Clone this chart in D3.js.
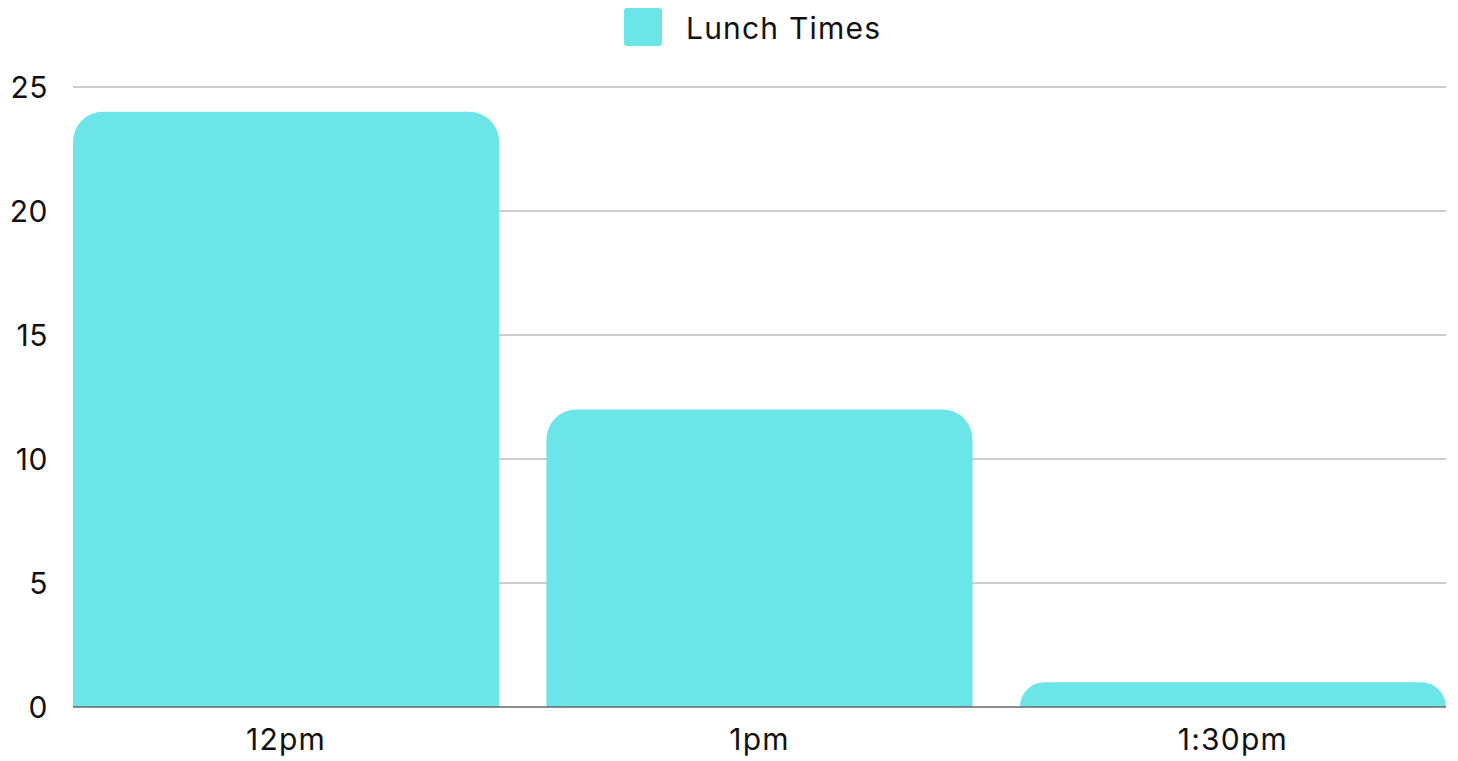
<!DOCTYPE html>
<html><head><meta charset="utf-8">
<script src="https://cdn.jsdelivr.net/npm/d3@7"></script>
<style>body{margin:0;background:#fff;} text{font-family:Inter,"Open Sans",sans-serif;letter-spacing:1.2px;} .yl text{letter-spacing:0.5px;}</style>
</head><body>
<svg id="c" width="1458" height="761"></svg>
<script>
const categories = ["12pm", "1pm", "1:30pm"];
const values = [24, 12, 1];
const yTicks = [0, 5, 10, 15, 20, 25];
const seriesName = "Lunch Times";
const color = "#6ce5e8";

const svg = d3.select("#c");
const m = {left: 73, right: 12, top: 87, bottom: 54};
const W = 1458, H = 761;
const x = d3.scaleBand().domain(categories).range([m.left, W - m.right]).paddingInner(0.1).paddingOuter(0);
const y = d3.scaleLinear().domain([0, 25]).range([H - m.bottom, m.top]);

// gridlines
svg.append("g").selectAll("line").data(yTicks.filter(t => t > 0)).join("line")
  .attr("x1", m.left).attr("x2", W - m.right)
  .attr("y1", d => y(d)).attr("y2", d => y(d))
  .attr("stroke", "#bdbdbd").attr("stroke-width", 1.3);

// y labels
svg.append("g").attr("class", "yl").selectAll("text").data(yTicks).join("text")
  .attr("x", 48).attr("y", d => y(d)).attr("dy", "0.35em")
  .attr("text-anchor", "end").attr("font-size", 30).attr("fill", "#111")
  .text(d => d);

// bars
function barPath(x0, w, yTop, yBot, r) {
  const h = yBot - yTop;
  const rr = Math.min(r, h, w / 2);
  return `M${x0},${yBot}V${yTop + rr}A${rr},${rr} 0 0 1 ${x0 + rr},${yTop}H${x0 + w - rr}A${rr},${rr} 0 0 1 ${x0 + w},${yTop + rr}V${yBot}Z`;
}
svg.append("g").selectAll("path").data(categories.map((c, i) => ({c, v: values[i]}))).join("path")
  .attr("d", d => barPath(x(d.c), x.bandwidth(), y(d.v), y(0), 30))
  .attr("fill", color);

// baseline
svg.append("line").attr("x1", m.left).attr("x2", W - m.right)
  .attr("y1", y(0)).attr("y2", y(0)).attr("stroke", "#666").attr("stroke-width", 1.5);

// x labels
svg.append("g").selectAll("text").data(categories).join("text")
  .attr("x", d => x(d) + x.bandwidth() / 2).attr("y", y(0) + 32).attr("dy", "0.35em")
  .attr("text-anchor", "middle").attr("font-size", 30).attr("fill", "#111")
  .text(d => d);

// legend
const lg = svg.append("g");
lg.append("rect").attr("x", 624).attr("y", 8).attr("width", 38).attr("height", 38).attr("rx", 3).attr("fill", color);
lg.append("text").attr("x", 686).attr("y", 28).attr("dy", "0.35em").attr("font-size", 30).attr("fill", "#111").text(seriesName);
</script>
</body></html>
